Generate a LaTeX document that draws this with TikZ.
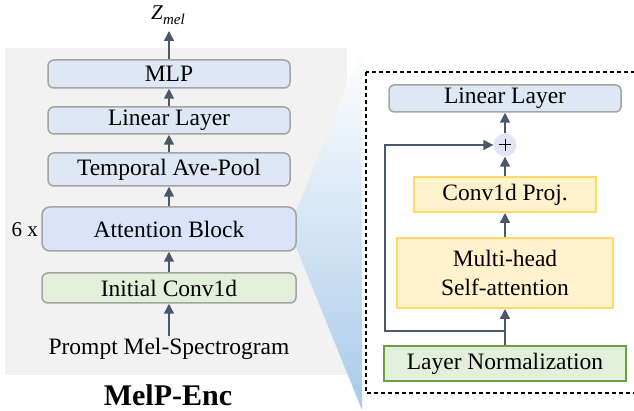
\documentclass[tikz,border=0pt]{standalone}
\usepackage{fontspec}
\setmainfont{Liberation Serif}
\usetikzlibrary{arrows.meta}
\definecolor{panelgray}{HTML}{F2F2F2}
\definecolor{boxblue}{HTML}{DEE8F4}
\definecolor{attnblue}{HTML}{DAE3FA}
\definecolor{convgreen}{HTML}{E2EFDA}
\definecolor{edgegray}{HTML}{A3A3A3}
\definecolor{arrowslate}{HTML}{4A586C}
\definecolor{projyellow}{HTML}{FFF2CC}
\definecolor{projedge}{HTML}{FFD966}
\definecolor{normedge}{HTML}{6E9E44}
\definecolor{wedgeblue}{HTML}{A9CAEA}
\definecolor{wedgemid}{HTML}{D9E6F4}
\definecolor{addlilac}{HTML}{E8E0F6}
\tikzset{
  x=1pt, y=-1pt,
  lbl/.style={font=\fontsize{23.5}{27}\selectfont, inner sep=0pt},
  roundbox/.style={lbl, draw=edgegray, line width=1.5pt, rounded corners=6pt, minimum height=27pt},
  flatbox/.style={lbl, draw=projedge, line width=2pt, fill=projyellow},
  flow/.style={draw=arrowslate, line width=1.5pt, -{Triangle[length=10pt,width=10pt]}},
}
\begin{document}
\begin{tikzpicture}
\useasboundingbox (0,0) rectangle (634,411);

% encoder panel
\fill[panelgray] (5,48) rectangle (347,375);

% zoom wedge from the attention block to the detail panel
\shade[top color=white, middle color=wedgemid, bottom color=wedgeblue]
  (296,212) -- (362,46) -- (362,410) -- (296,247) -- cycle;

% encoder stack
\node[roundbox, fill=boxblue, minimum width=242pt, minimum height=28pt] (mlp) at (169,74) {MLP};
\node[roundbox, fill=boxblue, minimum width=242pt] (lin) at (169,120.5) {Linear Layer};
\node[roundbox, fill=boxblue, minimum width=242pt, minimum height=33pt] (pool) at (169,169.5) {Temporal Ave-Pool};
\node[roundbox, fill=attnblue, minimum width=254pt, minimum height=44pt, rounded corners=8pt] (attn) at (169,229) {Attention Block};
\node[roundbox, fill=convgreen, minimum width=254pt, minimum height=30pt] (init) at (169,288) {Initial Conv1d};
\node[lbl] (prompt) at (169,349) {Prompt Mel-Spectrogram};
\node[inner sep=0pt, anchor=east, font=\fontsize{21}{24}\selectfont] (rep) at (38,230) {6 x};
\node[inner sep=0pt, anchor=base west] (zmel) at (151,20)
  {\fontsize{21}{24}\selectfont\textit{Z}\raisebox{-5pt}{\fontsize{15}{17}\selectfont\textit{mel}}};
\node[inner sep=0pt, anchor=base, font=\fontsize{30}{34}\selectfont\bfseries] (title) at (168,405) {MelP-Enc};

\coordinate (pin) at (169,336);
\coordinate (zin) at (169,31);
\draw[flow] (pin) -- (init.south);
\draw[flow] (init) -- (attn);
\draw[flow] (attn) -- (pool);
\draw[flow] (pool) -- (lin);
\draw[flow] (lin) -- (mlp);
\draw[flow] (mlp.north) -- (zin);

% attention block detail
\draw[line width=1.2pt, dash pattern=on 4pt off 3pt] (366,72) rectangle (645,393);
\node[roundbox, fill=boxblue, minimum width=232pt, rounded corners=5pt] (rlin) at (505,98.5) {Linear Layer};
\node[circle, minimum size=23pt, inner sep=0pt, left color=addlilac, right color=boxblue, font=\fontsize{22}{22}\selectfont] (add) at (505,145) {};
\draw[line width=1pt] ([xshift=-6pt]add.center) -- ([xshift=6pt]add.center)
  ([yshift=-6pt]add.center) -- ([yshift=6pt]add.center);
\node[flatbox, minimum width=182pt, minimum height=35pt] (proj) at (505,194.5) {Conv1d Proj.};
\node[flatbox, minimum width=216pt, minimum height=70pt, align=center] (mhsa) at (505,273) {Multi-head\\[2pt]Self-attention};
\node[lbl, draw=normedge, line width=1.5pt, fill=convgreen, minimum width=242pt, minimum height=35pt] (norm) at (505,363.5) {Layer Normalization};
\coordinate (split) at (505,331);
\coordinate (skipcorner) at (385,331);

\draw[flow] (norm) -- (mhsa);
\draw[flow] (mhsa) -- (proj);
\draw[flow] (proj) -- (add);
\draw[flow] (add) -- (rlin);
\draw[flow] (split) -- (skipcorner) |- (add.west);
\end{tikzpicture}
\end{document}
